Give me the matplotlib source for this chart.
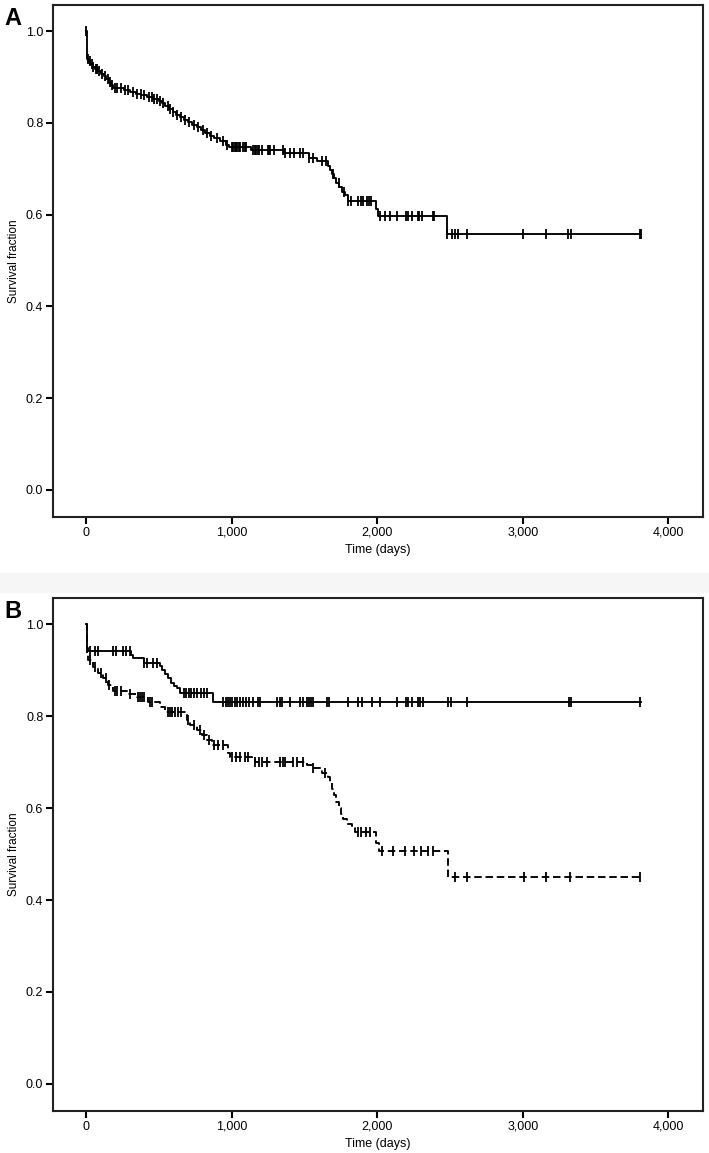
import numpy as np
import matplotlib.pyplot as plt
from matplotlib.patches import Rectangle
from matplotlib.ticker import FuncFormatter

plt.rcParams['font.family'] = ['Liberation Sans Narrow', 'Liberation Sans', 'DejaVu Sans']

# ---- panel A: whole cohort ----
a_times = [0, 5, 15, 30, 45, 60, 80, 100, 120, 140, 155, 170, 185, 260, 300, 340, 380,
           420, 460, 500, 520, 545, 570, 595, 620, 645, 670, 700, 730, 760, 790, 820,
           850, 880, 920, 960, 985, 1130, 1360, 1530, 1590, 1660, 1675, 1690, 1705,
           1720, 1740, 1760, 1780, 1800, 1990, 2005, 2480]
a_surv = [1.0, 0.94, 0.935, 0.928, 0.922, 0.918, 0.912, 0.906, 0.902, 0.895, 0.888,
          0.882, 0.876, 0.872, 0.868, 0.864, 0.861, 0.857, 0.853, 0.848, 0.843, 0.836,
          0.830, 0.824, 0.818, 0.812, 0.807, 0.801, 0.796, 0.790, 0.784, 0.778, 0.772,
          0.766, 0.760, 0.752, 0.747, 0.740, 0.734, 0.724, 0.716, 0.706, 0.697, 0.688,
          0.679, 0.670, 0.660, 0.650, 0.642, 0.630, 0.612, 0.597, 0.557]
a_cens = [0, 12, 25, 38, 50, 65, 75, 90, 110, 130, 150, 165, 180, 200, 215, 240, 270,
          290, 320, 350, 375, 400, 430, 450, 470, 490, 510, 530, 560, 580, 600, 625,
          650, 680, 710, 740, 770, 800, 830, 860, 900, 940, 970, 1000, 1010, 1020, 1030,
          1040, 1050, 1060, 1075, 1090, 1100, 1150, 1160, 1170, 1180, 1190, 1210, 1250,
          1260, 1265, 1290, 1350, 1370, 1400, 1430, 1470, 1490, 1530, 1560, 1620, 1650,
          1700, 1735, 1775, 1800, 1820, 1870, 1890, 1905, 1930, 1945, 1960, 2021, 2055,
          2089, 2137, 2199, 2210, 2241, 2282, 2290, 2309, 2385, 2390, 2481, 2515, 2536,
          2557, 2619, 3003, 3162, 3313, 3333, 3808, 3815]

# ---- panel B: two groups ----
b1_times = [0, 3, 8, 14, 310, 325, 395, 505, 525, 545, 565, 585, 605, 625, 646, 873]
b1_surv = [1.0, 0.961, 0.948, 0.941, 0.933, 0.926, 0.916, 0.909, 0.900, 0.891, 0.883,
           0.872, 0.866, 0.861, 0.850, 0.830]
b1_cens = [27, 62, 82, 186, 206, 254, 275, 300, 399, 419, 460, 490, 673, 690, 705, 720,
           740, 760, 790, 810, 832, 942, 960, 975, 990, 1004, 1020, 1040, 1060, 1080,
           1100, 1120, 1150, 1182, 1196, 1313, 1330, 1347, 1402, 1471, 1491, 1519, 1535,
           1545, 1560, 1656, 1670, 1801, 1869, 1897, 1966, 2021, 2137, 2199, 2213, 2241,
           2282, 2296, 2316, 2488, 2509, 2619, 3320, 3333, 3808]

b2_times = [0, 5, 14, 48, 82, 117, 151, 186, 282, 350, 426, 509, 543, 694, 715, 763,
            797, 832, 866, 976, 990, 1141, 1161, 1519, 1560, 1622, 1663, 1675, 1690,
            1705, 1720, 1735, 1750, 1765, 1790, 1830, 1850, 1995, 2010, 2485]
b2_surv = [1.0, 0.935, 0.922, 0.907, 0.893, 0.883, 0.867, 0.854, 0.848, 0.841, 0.830,
           0.820, 0.809, 0.791, 0.780, 0.770, 0.759, 0.748, 0.737, 0.720, 0.711, 0.706,
           0.700, 0.693, 0.687, 0.676, 0.667, 0.655, 0.642, 0.628, 0.614, 0.600, 0.588,
           0.576, 0.566, 0.556, 0.548, 0.525, 0.507, 0.450]
b2_cens = [30, 60, 100, 135, 160, 200, 215, 240, 300, 355, 370, 385, 400, 440, 455,
           560, 575, 590, 610, 630, 650, 700, 740, 780, 810, 845, 880, 905, 940, 1000,
           1030, 1060, 1090, 1110, 1161, 1185, 1210, 1240, 1330, 1350, 1370, 1420, 1450,
           1490, 1560, 1640, 1869, 1890, 1920, 1950, 2035, 2110, 2190, 2250, 2300, 2350,
           2385, 2536, 2620, 3010, 3162, 3327, 3808]

end_time = 3815
xticks = [0, 1000, 2000, 3000, 4000]
yticks = [0.0, 0.2, 0.4, 0.6, 0.8, 1.0]


def surv_at(times, surv, t):
    idx = np.searchsorted(times, t, side='right') - 1
    return np.asarray(surv)[idx]


def km_curve(ax, times, surv, cens, ls='-'):
    xs = list(times) + [end_time]
    ys = list(surv) + [surv[-1]]
    ax.step(xs, ys, where='post', color='black', lw=1.35, ls=ls,
            dashes=(4, 2) if ls == '--' else (None, None))
    cy = surv_at(times, surv, np.array(cens))
    ax.plot(cens, cy, ls='none', marker='|', ms=7, mew=1.3, color='black')


def style_axes(ax):
    ax.set_xlim(-227, 4240)
    ax.set_ylim(-0.059, 1.057)
    ax.set_xticks(xticks)
    ax.set_yticks(yticks)
    ax.xaxis.set_major_formatter(FuncFormatter(lambda v, p: f'{int(v):,}'))
    ax.yaxis.set_major_formatter(FuncFormatter(lambda v, p: f'{v:.1f}'))
    for s in ax.spines.values():
        s.set_linewidth(1.5)
        s.set_color('#222222')
    ax.tick_params(direction='out', length=5, width=1.5, labelsize=9, pad=2)
    ax.set_xlabel('Time (days)', fontsize=9, labelpad=4)
    ax.set_ylabel('Survival fraction', fontsize=8.5, labelpad=4)


fig = plt.figure(figsize=(7.09, 11.53), dpi=100)
fig.patches.append(Rectangle((0, 1 - 592 / 1153), 1, 19 / 1153, transform=fig.transFigure,
                             color='#f6f6f6', zorder=0))

axA = fig.add_axes([0.0748, 0.5516, 0.917, 0.4441])
km_curve(axA, a_times, a_surv, a_cens)
style_axes(axA)

axB = fig.add_axes([0.0748, 0.0364, 0.917, 0.4449])
km_curve(axB, b1_times, b1_surv, b1_cens)
km_curve(axB, b2_times, b2_surv, b2_cens, ls='--')
style_axes(axB)

fig.text(0.006, 0.984, 'A', fontsize=17, fontweight='bold', family='Liberation Sans', va='center')
fig.text(0.006, 0.470, 'B', fontsize=17, fontweight='bold', family='Liberation Sans', va='center')

fig.savefig('out.png', dpi=100)
